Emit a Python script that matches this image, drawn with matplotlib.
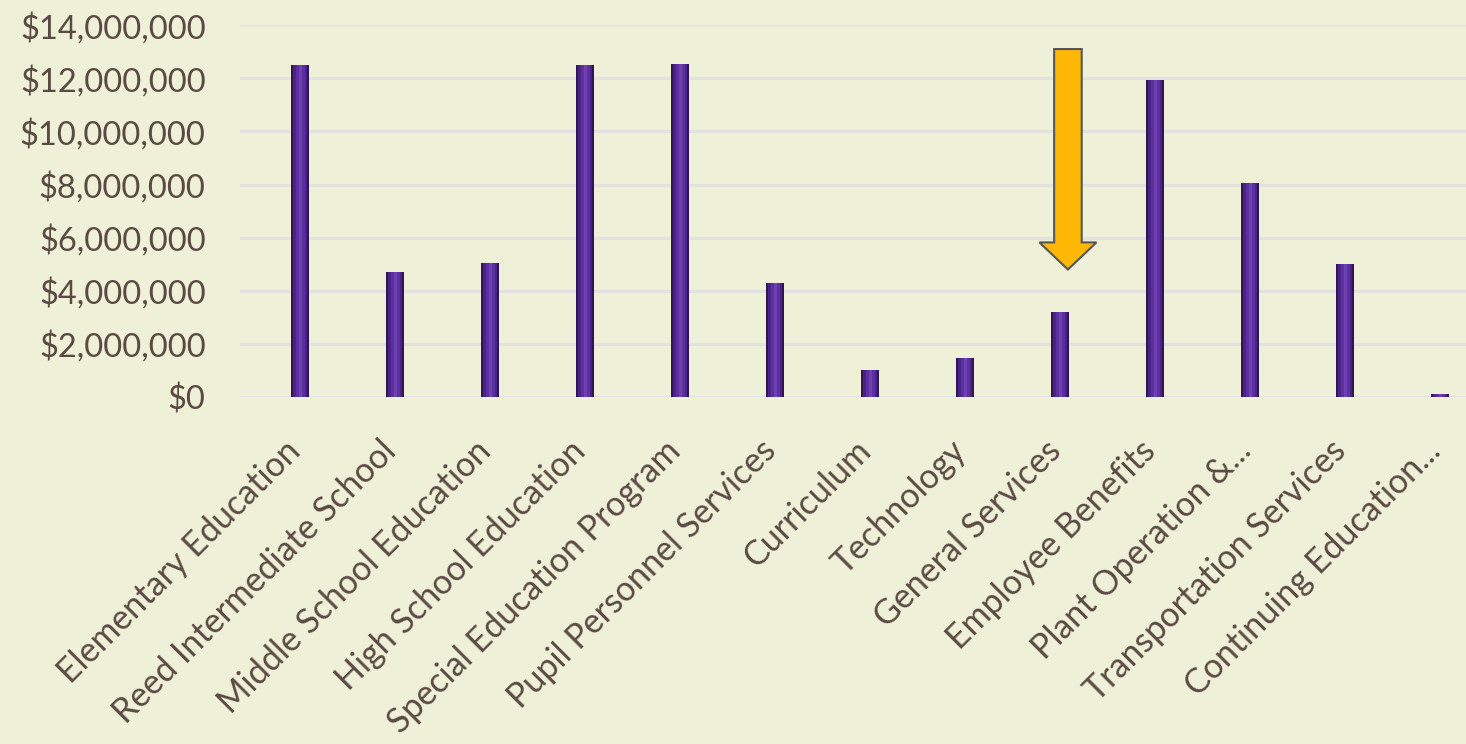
import matplotlib
matplotlib.use("Agg")
import matplotlib.pyplot as plt
from matplotlib.patches import FancyArrow
from matplotlib.ticker import FuncFormatter
from matplotlib.transforms import ScaledTranslation

categories = ["Elementary Education", "Reed Intermediate School", "Middle School Education",
              "High School Education", "Special Education Program", "Pupil Personnel Services",
              "Curriculum", "Technology", "General Services", "Employee Benefits",
              "Plant Operation &...", "Transportation Services", "Continuing Education..."]
values = [12.5e6, 4.7e6, 5.05e6, 12.5e6, 12.52e6, 4.3e6, 1.02e6, 1.47e6, 3.2e6,
          11.93e6, 8.05e6, 5.0e6, 0.12e6]
yticks = [0, 2e6, 4e6, 6e6, 8e6, 10e6, 12e6, 14e6]
highlight = "General Services"

bg = "#eef0d7"
txt = "#5b4a44"
plt.rcParams['font.family'] = ['Lato', 'DejaVu Sans']

fig = plt.figure(figsize=(14.66, 7.44), dpi=100, facecolor=bg)
ax = fig.add_axes([0.164, 0.4664, 0.836, 0.4998], facecolor=bg)

x = list(range(len(categories)))
# cylinder-like shading with layered bars
ax.bar(x, values, width=0.19, color="#2f1457", zorder=3)
ax.bar(x, values, width=0.15, color="#4b2387", zorder=4)
ax.bar(x, values, width=0.09, color="#5c30a0", zorder=5)
ax.bar(x, values, width=0.035, color="#6c42b0", zorder=6)

ax.set_ylim(0, 14e6)
ax.set_xlim(-0.63, 12.27)
ax.set_yticks(yticks)
ax.yaxis.set_major_formatter(FuncFormatter(lambda v, p: "${:,.0f}".format(v)))
ax.grid(axis="y", color="#e2e2de", lw=2.2, zorder=0)
ax.set_axisbelow(True)
for s in ax.spines.values():
    s.set_visible(False)
ax.tick_params(axis="y", length=0, pad=25, labelsize=23.5, labelcolor=txt)
ax.tick_params(axis="x", length=0, pad=27, labelsize=24.5, labelcolor=txt)
ax.set_xticks(x)
ax.set_xticklabels(categories, rotation=45, ha="right", rotation_mode="anchor")
off = ScaledTranslation(-16 / 100, 0, fig.dpi_scale_trans)
for lab in ax.get_xticklabels():
    lab.set_transform(lab.get_transform() + off)

# highlight arrow
hi = categories.index(highlight)
arrow = FancyArrow(hi + 0.08, 13.1e6, 0, -8.3e6, width=0.29, head_width=0.6,
                   head_length=1.02e6, length_includes_head=True,
                   facecolor="#ffb806", edgecolor="#55555a", lw=1.5, zorder=7)
ax.add_patch(arrow)

fig.savefig("out.png", dpi=100, facecolor=bg)
